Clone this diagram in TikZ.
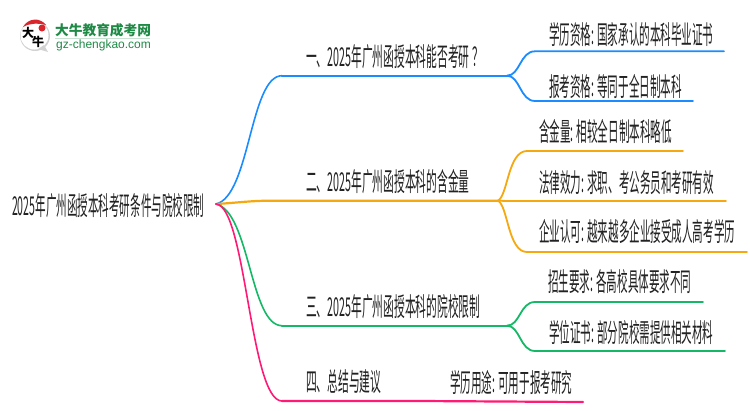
\documentclass[tikz,border=0pt]{standalone}
\usepackage{fontspec}
\setmainfont{Noto Sans CJK SC}
\setsansfont{Liberation Sans}
\usetikzlibrary{positioning}
\definecolor{lineblue}{HTML}{1A8CFF}
\definecolor{lineorange}{HTML}{F5A80F}
\definecolor{linegreen}{HTML}{14B866}
\definecolor{linepink}{HTML}{FF1A75}
\definecolor{logogreen}{HTML}{1E8A46}
\definecolor{logored}{HTML}{D8262C}
\definecolor{inktext}{HTML}{222222}
\begin{document}
\begin{tikzpicture}[x=1pt,y=-1pt,
    rootlabel/.style={anchor=west,inner sep=0pt,text=inktext,font=\fontsize{26pt}{26pt}\selectfont,xscale=.406,transform shape},
    title/.style={anchor=west,inner sep=0pt,text=inktext,font=\fontsize{26pt}{26pt}\selectfont,xscale=.4135,transform shape},
    leaf/.style={anchor=west,inner sep=0pt,text=inktext,font=\fontsize{26pt}{26pt}\selectfont,xscale=.406,transform shape},
    curveline/.style={line width=1.6pt,line cap=round},
    trunk/.style={line width=2.2pt,line cap=round},
    twig/.style={line width=1.8pt,line cap=round}]
    \useasboundingbox (0,0) rectangle (750,410);

    % logo
    \fill[gray!35] (35,36) circle (15);
    \fill[white] (34.5,35.5) circle (14);
    \fill[gray!35] (38,49) -- (48,52) -- (44,45) -- cycle;
    \fill[logored] (23,27) .. controls (28,18) and (40,17) .. (46,25) .. controls (38,23) and (30,23) .. (23,27);
    \fill[logored] (42,28) circle (3.5);
    \node[inner sep=0pt,text=black,font=\bfseries\fontsize{12pt}{12pt}\selectfont] (logoda) at (28,33) {大};
    \node[inner sep=0pt,text=black,font=\bfseries\fontsize{12pt}{12pt}\selectfont] (logoniu) at (38,42) {牛};
    \node[anchor=west,inner sep=0pt,text=logogreen,font=\bfseries\fontsize{13.7pt}{14pt}\selectfont] (logoname) at (55,30) {大牛教育成考网};
    \node[anchor=west,inner sep=0pt,text=logogreen,font=\sffamily\fontsize{12pt}{12pt}\selectfont] (logourl) at (56,45) {gz-chengkao.com};
    \draw[logogreen!25,line width=.8pt] (55,38.5) -- (150,38.5);

    % labels
    \node[rootlabel] (rootname) at (12,206) {2025年广州函授本科考研条件与院校限制};
    \node[title] (one) at (306,57) {一、2025年广州函授本科能否考研\hspace{.3em}？};
    \node[title] (two) at (306,182) {二、2025年广州函授本科的含金量};
    \node[title] (three) at (306,307) {三、2025年广州函授本科的院校限制};
    \node[title] (four) at (306,382) {四、总结与建议};
    \node[leaf] (xueli) at (549,35) {学历资格: 国家承认的本科毕业证书};
    \node[leaf] (baokao) at (549,86) {报考资格: 等同于全日制本科};
    \node[leaf] (hanjin) at (539,132) {含金量: 相较全日制本科略低};
    \node[leaf] (falv) at (539,183) {法律效力: 求职、考公务员和考研有效};
    \node[leaf] (qiye) at (539,232) {企业认可: 越来越多企业接受成人高考学历};
    \node[leaf] (zhaosheng) at (548,282) {招生要求: 各高校具体要求不同};
    \node[leaf] (xuewei) at (549,333) {学位证书: 部分院校需提供相关材料};
    \node[leaf] (yongtu) at (450,383) {学历用途: 可用于报考研究};

    % junctions
    \coordinate (root) at (216,204);
    \coordinate (bendone) at (282,75.7);
    \coordinate (forkone) at (507,75.7);
    \coordinate (bendtwo) at (270,200.7);
    \coordinate (forktwo) at (498,200.7);
    \coordinate (bendthree) at (282,325.7);
    \coordinate (forkthree) at (507,325.7);
    \coordinate (bendfour) at (282,401);
    \coordinate (endfour) at (583,402);

    % blue
    \draw[lineblue,curveline] (root) .. controls (250,196) and (250,75.7) .. (bendone);
    \draw[lineblue,trunk] (bendone) -- (forkone);
    \draw[lineblue,twig] (forkone) .. controls (520,75.7) and (520,51.3) .. (535,51.3) -- (724,51.3);
    \draw[lineblue,twig] (forkone) .. controls (520,75.7) and (520,101) .. (535,101) -- (693,101);
    % orange
    \draw[lineorange,trunk] (root) .. controls (235,203) and (250,200.7) .. (bendtwo) -- (forktwo);
    \draw[lineorange,twig] (forktwo) .. controls (508,195) and (508,151) .. (527,151) -- (683,151);
    \draw[lineorange,twig] (forktwo) .. controls (505,201) and (512,201) .. (520,201) -- (726,201);
    \draw[lineorange,twig] (forktwo) .. controls (508,206) and (508,252) .. (527,252) -- (747,252);
    % green
    \draw[linegreen,curveline] (root) .. controls (250,212) and (250,325.7) .. (bendthree);
    \draw[linegreen,trunk] (bendthree) -- (forkthree);
    \draw[linegreen,twig] (forkthree) .. controls (520,325.7) and (520,302) .. (535,302) -- (703,302);
    \draw[linegreen,twig] (forkthree) .. controls (520,325.7) and (520,351) .. (535,351) -- (725,351);
    % pink
    \draw[linepink,curveline] (root) .. controls (246,206) and (250,401) .. (bendfour);
    \draw[linepink,trunk] (bendfour) -- (420,401) -- (endfour);
\end{tikzpicture}
\end{document}
